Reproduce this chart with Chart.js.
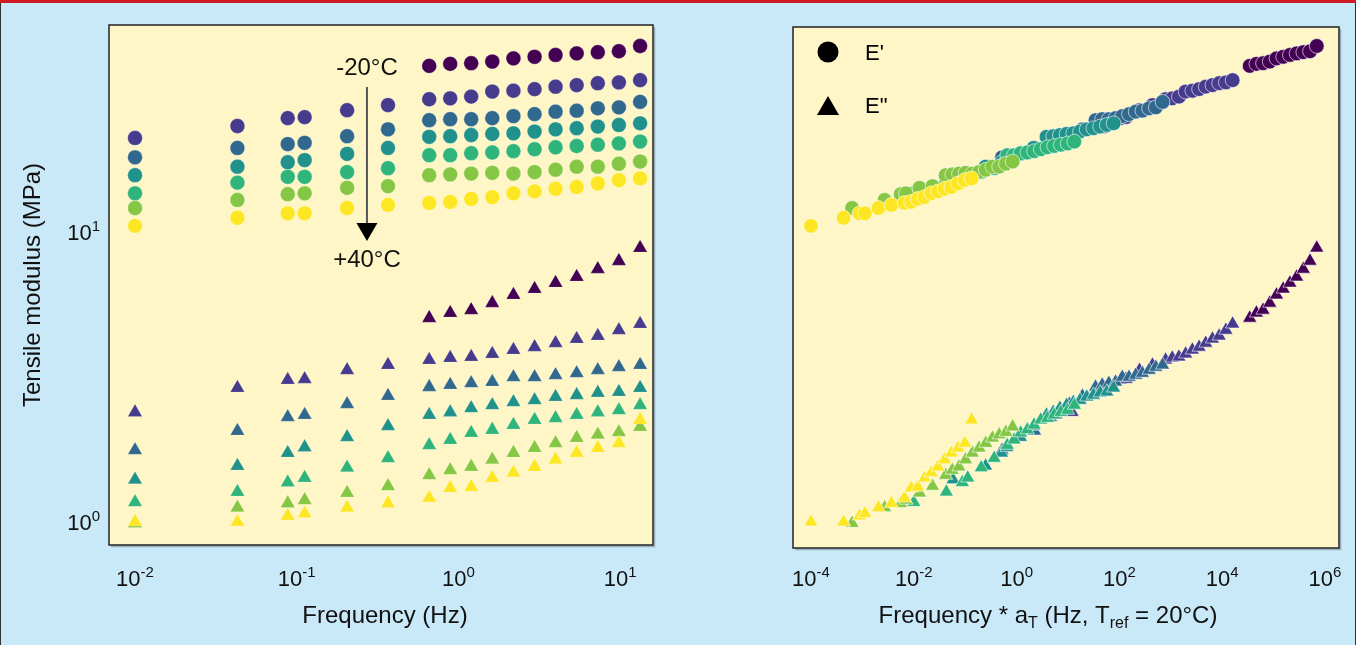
<!DOCTYPE html>
<html>
<head>
<meta charset="utf-8">
<script src="https://cdn.jsdelivr.net/npm/chart.js@4.4.1/dist/chart.umd.min.js"></script>
<style>
  html, body { margin: 0; padding: 0; }
  body { width: 1356px; height: 645px; background: #c9e8f8; position: relative; overflow: hidden; }
  #topbar { position: absolute; left: 0; top: 0; width: 1356px; height: 3px; background: #cf1a22; }
  #frame { position: absolute; left: 0; top: 3px; width: 1354px; height: 642px; border-left: 1px solid #333; border-right: 1px solid #333; }
  canvas { position: absolute; top: 0; }
  #graph1 { left: 0; }
  #graph2 { left: 700px; }
</style>
</head>
<body>
<div id="topbar"></div>
<div id="frame"></div>
<canvas id="graph1" width="680" height="645"></canvas>
<canvas id="graph2" width="656" height="645"></canvas>
<script>
// 測定温度 (-20°C -> +40°C) と色
var temps = ['-20°C', '-10°C', '0°C', '10°C', '20°C', '30°C', '40°C'];
var colors = ['#440154', '#463b8c', '#31688e', '#21918c', '#2fb47c', '#85c744', '#fde725'];

// 周波数 (Hz)
var freqLow = [0.01, 0.043, 0.088, 0.112, 0.205, 0.367];
var freqHigh = [0.66, 0.89, 1.20, 1.62, 2.19, 2.96, 3.99, 5.39, 7.28, 9.83, 13.3];

// E' (MPa)  -20°Cは低周波側なし
var eStoreLow = [
  [],
  [21.1, 23.2, 24.7, 24.9, 26.3, 27.4],
  [18.1, 19.5, 20.1, 20.3, 21.4, 22.6],
  [15.7, 16.8, 17.4, 17.7, 18.6, 19.5],
  [13.6, 14.8, 15.5, 15.5, 16.1, 16.6],
  [12.1, 12.9, 13.5, 13.6, 14.2, 14.4],
  [10.5, 11.2, 11.6, 11.6, 12.1, 12.4]
];
var eStoreHigh = [
  [37.4, 38.0, 38.2, 38.7, 39.7, 40.2, 40.8, 41.3, 41.7, 42.0, 43.8],
  [28.7, 28.9, 29.3, 30.5, 30.7, 31.1, 31.7, 32.1, 32.6, 32.8, 33.4],
  [24.3, 24.5, 24.5, 24.7, 25.1, 25.5, 26.0, 26.2, 26.7, 26.9, 28.1],
  [21.3, 21.4, 21.6, 21.8, 21.9, 22.2, 22.6, 22.8, 23.1, 23.4, 23.7],
  [18.4, 18.4, 18.7, 18.8, 19.0, 19.3, 19.6, 19.8, 20.0, 20.2, 20.5],
  [15.7, 15.8, 15.9, 16.0, 15.9, 16.1, 16.4, 16.8, 16.8, 17.2, 17.5],
  [12.6, 12.7, 13.0, 13.2, 13.6, 13.8, 14.1, 14.3, 14.7, 15.1, 15.3]
];

// E'' (MPa)
var eLossLow = [
  [],
  [2.39, 2.90, 3.09, 3.11, 3.34, 3.48],
  [1.77, 2.06, 2.30, 2.34, 2.55, 2.72],
  [1.40, 1.56, 1.73, 1.81, 1.96, 2.14],
  [1.17, 1.27, 1.37, 1.42, 1.54, 1.66],
  [0.99, 1.12, 1.16, 1.19, 1.26, 1.33],
  [1.00, 1.00, 1.05, 1.07, 1.12, 1.16]
];
var eLossHigh = [
  [5.05, 5.26, 5.38, 5.69, 6.07, 6.36, 6.67, 7.00, 7.45, 7.94, 8.81],
  [3.62, 3.68, 3.71, 3.80, 3.92, 4.01, 4.14, 4.28, 4.38, 4.59, 4.82],
  [2.92, 2.97, 3.01, 3.04, 3.16, 3.16, 3.21, 3.26, 3.34, 3.42, 3.48],
  [2.34, 2.39, 2.47, 2.53, 2.59, 2.63, 2.70, 2.74, 2.79, 2.81, 2.90],
  [1.84, 1.92, 2.03, 2.08, 2.16, 2.25, 2.28, 2.34, 2.39, 2.43, 2.53],
  [1.45, 1.51, 1.55, 1.64, 1.73, 1.80, 1.87, 1.95, 2.00, 2.04, 2.13],
  [1.21, 1.31, 1.32, 1.42, 1.48, 1.55, 1.64, 1.73, 1.80, 1.87, 2.25]
];

// シフトファクター a_T (Tref = 20°C)
var aT = [52000, 1200, 52, 5.8, 1, 0.063, 0.01];

// 目盛り
var xTicksLeft = [0.01, 0.1, 1, 10];
var xTicksRight = [1e-4, 1e-2, 1, 1e2, 1e4, 1e6];
var yTicksLeft = [1, 10];

var FONT = '"Liberation Sans", Arial, Helvetica, sans-serif';
var plotBg = '#fef6c6';

function buildDatasets(shift) {
  var sets = [];
  for (let i = temps.length - 1; i >= 0; i--) {
    var a = shift ? aT[i] : 1;
    var p1 = [], p2 = [];
    for (let k = 0; k < eStoreLow[i].length; k++) {
      p1.push({x: freqLow[k] * a, y: eStoreLow[i][k]});
      p2.push({x: freqLow[k] * a, y: eLossLow[i][k]});
    }
    for (let k = 0; k < freqHigh.length; k++) {
      p1.push({x: freqHigh[k] * a, y: eStoreHigh[i][k]});
      p2.push({x: freqHigh[k] * a, y: eLossHigh[i][k]});
    }
    var edge = shift ? 'rgba(255,255,255,0.6)' : 'rgba(255,255,255,0.3)';
    sets.push({
      label: "E' " + temps[i], data: p1, showLine: false,
      pointStyle: 'circle', pointRadius: 7.4,
      backgroundColor: colors[i], borderColor: edge, pointBorderWidth: 1
    });
    sets.push({
      label: 'E" ' + temps[i], data: p2, showLine: false,
      pointStyle: 'triangle', pointRadius: 8.2,
      backgroundColor: colors[i], borderColor: edge, pointBorderWidth: shift ? 1 : 0.6
    });
  }
  return sets;
}

// 上付き・下付きを含む文字列
function drawRich(ctx, parts, x, y, align) {
  var w = 0;
  parts.forEach(function(p) { ctx.font = p[1] + 'px ' + FONT; w += ctx.measureText(p[0]).width; });
  var cx = x;
  if (align == 'center') cx = x - w / 2;
  else if (align == 'right') cx = x - w;
  ctx.textAlign = 'left';
  ctx.textBaseline = 'alphabetic';
  parts.forEach(function(p) {
    ctx.font = p[1] + 'px ' + FONT;
    ctx.fillText(p[0], cx, y + p[2]);
    cx += ctx.measureText(p[0]).width;
  });
}

function powLabel(v) {
  return [['10', 22, 0], [String(Math.round(Math.log10(v))), 15, -9]];
}

var framePlugin = {
  id: 'frame',
  beforeDatasetsDraw: function(chart) {
    var a = chart.chartArea, ctx = chart.ctx;
    ctx.save();
    ctx.fillStyle = plotBg;
    ctx.fillRect(a.left, a.top, a.right - a.left, a.bottom - a.top);
    ctx.restore();
  },
  afterDatasetsDraw: function(chart, args, opts) {
    var a = chart.chartArea, ctx = chart.ctx;
    ctx.save();
    ctx.strokeStyle = 'rgba(0,0,0,0.25)';
    ctx.lineWidth = 1.5;
    ctx.beginPath();
    ctx.moveTo(a.left + 2, a.bottom + 1.5);
    ctx.lineTo(a.right + 1.5, a.bottom + 1.5);
    ctx.lineTo(a.right + 1.5, a.top + 2);
    ctx.stroke();
    ctx.strokeStyle = '#222';
    ctx.lineWidth = 1.5;
    ctx.strokeRect(a.left, a.top, a.right - a.left, a.bottom - a.top);

    ctx.fillStyle = '#111';
    var xs = chart.scales.x, ys = chart.scales.y;
    opts.xTicks.forEach(function(v) {
      drawRich(ctx, powLabel(v), xs.getPixelForValue(v), 586, 'center');
    });
    opts.yTicks.forEach(function(v) {
      drawRich(ctx, powLabel(v), a.left - 9, ys.getPixelForValue(v) + 8, 'right');
    });
    if (opts.xTitle) drawRich(ctx, opts.xTitle, (a.left + a.right) / 2 + opts.xTitleShift, 623, 'center');
    if (opts.yTitle) {
      ctx.translate(33, (a.top + a.bottom) / 2);
      ctx.rotate(-Math.PI / 2);
      ctx.font = '24px ' + FONT;
      ctx.textAlign = 'center';
      ctx.textBaseline = 'middle';
      ctx.fillText(opts.yTitle, 0, 0);
    }
    ctx.restore();
  }
};

// 左: 温度矢印
var arrowPlugin = {
  id: 'arrow',
  afterDatasetsDraw: function(chart) {
    var ctx = chart.ctx;
    var x = chart.scales.x.getPixelForValue(0.272);
    ctx.save();
    ctx.fillStyle = '#111';
    ctx.font = '24px ' + FONT;
    ctx.textAlign = 'center';
    ctx.textBaseline = 'middle';
    ctx.fillText('-20°C', x, 68);
    ctx.fillText('+40°C', x, 260);
    ctx.strokeStyle = '#555';
    ctx.lineWidth = 2;
    ctx.beginPath();
    ctx.moveTo(x, 87);
    ctx.lineTo(x, 226);
    ctx.stroke();
    ctx.fillStyle = '#000';
    ctx.beginPath();
    ctx.moveTo(x - 10.5, 223);
    ctx.lineTo(x + 10.5, 223);
    ctx.lineTo(x, 241);
    ctx.closePath();
    ctx.fill();
    ctx.restore();
  }
};

// 右: 凡例
var legendPlugin = {
  id: 'markerLegend',
  afterDatasetsDraw: function(chart) {
    var ctx = chart.ctx, a = chart.chartArea;
    var mx = a.left + 35;
    ctx.save();
    ctx.fillStyle = '#000';
    ctx.beginPath();
    ctx.arc(mx, a.top + 25, 10.5, 0, Math.PI * 2);
    ctx.fill();
    ctx.beginPath();
    ctx.moveTo(mx, a.top + 69);
    ctx.lineTo(mx + 11, a.top + 88);
    ctx.lineTo(mx - 11, a.top + 88);
    ctx.closePath();
    ctx.fill();
    ctx.font = '22px ' + FONT;
    ctx.textAlign = 'left';
    ctx.textBaseline = 'middle';
    ctx.fillText("E'", a.left + 72, a.top + 27);
    ctx.fillText('E"', a.left + 72, a.top + 80);
    ctx.restore();
  }
};

function makeOptions(xr, yr, pad, yw, xh, frameOpts) {
  return {
    responsive: false,
    animation: false,
    layout: { padding: { top: pad[0], right: pad[1], bottom: 0, left: 0 } },
    plugins: {
      legend: { display: false },
      tooltip: { enabled: false },
      frame: frameOpts
    },
    scales: {
      x: {
        type: 'logarithmic', min: xr[0], max: xr[1],
        grid: { display: false }, border: { display: false }, ticks: { display: false },
        afterFit: function(s) { s.height = xh; }
      },
      y: {
        type: 'logarithmic', min: yr[0], max: yr[1],
        grid: { display: false }, border: { display: false }, ticks: { display: false },
        afterFit: function(s) { s.width = yw; }
      }
    }
  };
}

document.addEventListener('DOMContentLoaded', function() {
  var ctx1 = document.querySelector('#graph1').getContext('2d');
  new Chart(ctx1, {
    type: 'scatter',
    data: { datasets: buildDatasets(false) },
    options: makeOptions([0.006905, 15.98], [0.8332, 51.74], [25, 27], 109, 100, {
      xTicks: xTicksLeft, yTicks: yTicksLeft,
      xTitle: [['Frequency (Hz)', 24, 0]], xTitleShift: 4,
      yTitle: 'Tensile modulus (MPa)'
    }),
    plugins: [framePlugin, arrowPlugin]
  });

  var ctx2 = document.querySelector('#graph2').getContext('2d');
  new Chart(ctx2, {
    type: 'scatter',
    data: { datasets: buildDatasets(true) },
    options: makeOptions([4.466e-5, 1.873e6], [0.8135, 50.93], [27, 17], 93, 97, {
      xTicks: xTicksRight, yTicks: [],
      xTitle: [['Frequency * a', 24, 0], ['T', 16, 5], [' (Hz, T', 24, 0], ['ref', 16, 5], [' = 20°C)', 24, 0]],
      xTitleShift: -18
    }),
    plugins: [framePlugin, legendPlugin]
  });
});
</script>
</body>
</html>
